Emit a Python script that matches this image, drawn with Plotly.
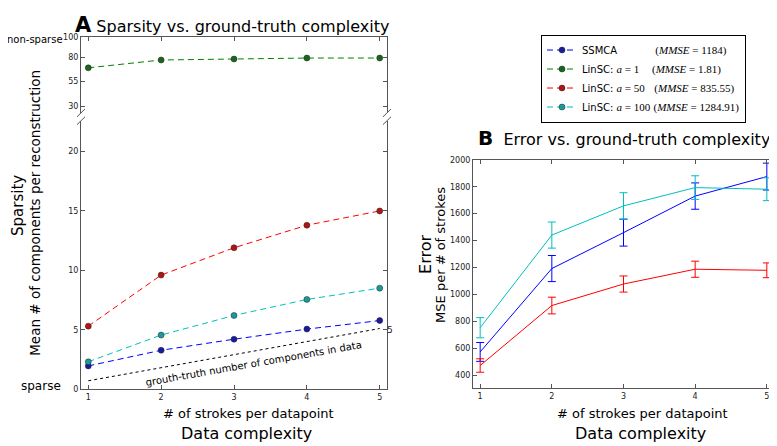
import plotly.graph_objects as go

# ---------------- data ----------------
strokes = [1, 2, 3, 4, 5]

# Panel A: mean number of components per reconstruction
sp_ssmca = [1.95, 3.27, 4.2, 5.05, 5.77]
sp_lin1 = [69, 77, 78, 79, 79]
sp_lin50 = [5.3, 9.6, 11.9, 13.8, 15.0]
sp_lin100 = [2.3, 4.55, 6.2, 7.55, 8.5]
gt_x = [1, 5]
gt_y = [0.7, 5.1]

# Panel B: MSE per # of strokes (mean, error)
err_ssmca = [572, 1192, 1459, 1731, 1876]
err_ssmca_sd = [70, 97, 100, 98, 100]
err_lin50 = [471, 917, 1077, 1187, 1179]
err_lin50_sd = [50, 62, 60, 60, 55]
err_lin100 = [752, 1441, 1658, 1794, 1782]
err_lin100_sd = [75, 97, 98, 88, 85]

sp_ticks_low = [0, 5, 10, 15, 20]
sp_ticks_high = [30, 55, 80, 100]
err_ticks = [400, 600, 800, 1000, 1200, 1400, 1600, 1800, 2000]

BLUE, GREEN, RED, CYAN = "#0000ff", "#008000", "#ff0000", "#00bfbf"
MBLUE, MGREEN, MRED, MCYAN = "#1a1aa0", "#1a661a", "#b01515", "#1a9a9a"
FONT = "DejaVu Sans"
SERIF = "Liberation Serif"

# the page body has an 8px margin: the figure is drawn at (8, 8)
OFF = 8
W, H = 777 - OFF, 446 - OFF


def px(x):
    return (x - OFF) / W


def py(y):
    return 1 - (y - OFF) / H


nb = "\u00a0"


def mm(txt):
    return f"<span style='font-family:{SERIF};font-size:11px'>{txt}</span>"


names = [
    "SSMCA" + nb * 12 + mm("(<i>MMSE</i> = 1184)"),
    "LinSC: " + mm("<i>a</i> = 1") + nb * 4 + mm("(<i>MMSE</i> = 1.81)"),
    "LinSC: " + mm("<i>a</i> = 50") + nb * 3 + mm("(<i>MMSE</i> = 835.55)"),
    "LinSC: " + mm("<i>a</i> = 100") + nb * 1 + mm("(<i>MMSE</i> = 1284.91)"),
]

fig = go.Figure()


def dashed(xv, yv, color, mcolor, name, xa, ya, show):
    fig.add_trace(go.Scatter(
        x=xv, y=yv, mode="lines+markers", name=name, showlegend=show,
        xaxis=xa, yaxis=ya,
        line=dict(color=color, width=1, dash="6px,4px"),
        marker=dict(color=mcolor, size=6, line=dict(color="#222222", width=0.5)),
        hoverinfo="skip",
    ))


# Panel A
dashed(strokes, sp_ssmca, BLUE, MBLUE, names[0], "x", "y", True)
dashed(strokes, sp_lin1, GREEN, MGREEN, names[1], "x2", "y2", True)
dashed(strokes, sp_lin50, RED, MRED, names[2], "x", "y", True)
dashed(strokes, sp_lin100, CYAN, MCYAN, names[3], "x", "y", True)

fig.add_trace(go.Scatter(
    x=gt_x, y=gt_y, mode="lines", showlegend=False, xaxis="x", yaxis="y",
    line=dict(color="black", width=1, dash="dot"), hoverinfo="skip",
))

# Panel B
for yv, sd, color in [(err_ssmca, err_ssmca_sd, BLUE),
                      (err_lin50, err_lin50_sd, RED),
                      (err_lin100, err_lin100_sd, CYAN)]:
    fig.add_trace(go.Scatter(
        x=strokes, y=yv, mode="lines", showlegend=False,
        xaxis="x3", yaxis="y3",
        line=dict(color=color, width=1),
        error_y=dict(type="data", array=sd, visible=True, color=color,
                     thickness=1, width=4),
        hoverinfo="skip",
    ))

AX = "#555555"
tickfont = dict(family=FONT, size=8, color="#222222")
common = dict(showgrid=False, zeroline=False, showline=True, linecolor=AX,
              linewidth=1, ticks="inside", ticklen=4, tickcolor=AX,
              tickfont=tickfont)

# geometry (reference pixels)
A_L, A_R = 81, 387
A_TOP_T, A_TOP_B = 34, 111
A_BOT_T, A_BOT_B = 119, 393
B_L, B_R, B_T, B_B = 473, 774, 159, 392

fig.update_layout(
    width=W, height=H, autosize=False,
    margin=dict(l=0, r=0, t=0, b=0),
    paper_bgcolor="white", plot_bgcolor="white",
    font=dict(family=FONT, color="black"),
    xaxis=dict(domain=[px(A_L), px(A_R)], range=[0.9, 5.1], anchor="y",
               tickvals=strokes, side="bottom", mirror=False, **common),
    xaxis2=dict(domain=[px(A_L), px(A_R)], range=[0.9, 5.1], anchor="y2",
                tickvals=strokes, side="top", showticklabels=False,
                mirror=False, **common),
    yaxis=dict(domain=[py(A_BOT_B), py(A_BOT_T)], range=[0, 22.6],
               anchor="x", tickvals=sp_ticks_low, mirror="ticks", **common),
    yaxis2=dict(domain=[py(A_TOP_B), py(A_TOP_T)], range=[23, 100],
                anchor="x2", tickvals=sp_ticks_high, mirror="ticks", **common),
    xaxis3=dict(domain=[px(B_L), px(B_R)], range=[0.9, 5.1], anchor="y3",
                tickvals=strokes, mirror="ticks", **common),
    yaxis3=dict(domain=[py(B_B), py(B_T)], range=[303, 2000], anchor="x3",
                tickvals=err_ticks, mirror="ticks", **common),
    legend=dict(x=px(541), y=py(31), xanchor="left", yanchor="top",
                bgcolor="white", bordercolor="black", borderwidth=1,
                font=dict(family=FONT, size=10, color="black"),
                traceorder="normal"),
)

# axis break marks
shapes = []
for xc in (A_L, A_R):
    for yc in (A_TOP_B, A_BOT_T):
        shapes.append(dict(type="line", xref="paper", yref="paper",
                           x0=px(xc - 4), y0=py(yc + 4),
                           x1=px(xc + 4), y1=py(yc - 4),
                           line=dict(color=AX, width=1)))
fig.update_layout(shapes=shapes)

ann = []


def text(x, y, t, size, angle=0, xanchor="center", yanchor="middle", color="black"):
    ann.append(dict(x=px(x), y=py(y), xref="paper", yref="paper", text=t,
                    showarrow=False, textangle=angle, xanchor=xanchor,
                    yanchor=yanchor, font=dict(family=FONT, size=size, color=color)))


# panel A title pinned to the top edge so it is not clipped
ann.append(dict(x=px(74), y=1, xref="paper", yref="paper", xanchor="left",
                yanchor="top", borderpad=0, showarrow=False,
                text="<span style='font-size:21px'><b>A</b></span> Sparsity vs. ground-truth complexity",
                font=dict(family=FONT, size=16, color="black")))
text(476, 137, "<span style='font-size:20px'><b>B</b></span>  Error vs. ground-truth complexity",
     16, xanchor="left")
text(65, 36, "non-sparse", 10, xanchor="right")
text(63, 390, "sparse", 12, xanchor="right")
text(18, 206, "Sparsity", 15, angle=-90)
text(35, 213, "Mean # of components per reconstruction", 13.5, angle=-90)
text(426, 256, "Error", 16, angle=-90)
text(441, 256, "MSE per # of strokes", 13, angle=-90)
text(248, 418, "# of strokes per datapoint", 13)
text(246, 438, "Data complexity", 16)
text(642, 418, "# of strokes per datapoint", 13)
text(640, 438, "Data complexity", 16)

ann.append(dict(x=3.27, y=2.43, xref="x", yref="y",
                text="grouth-truth number of components in data",
                showarrow=False, textangle=-10, yshift=-3,
                font=dict(family=FONT, size=10, color="black")))
ann.append(dict(x=gt_x[-1], y=gt_y[-1], xref="x", yref="y", text="5",
                showarrow=False, xshift=10, yshift=-1,
                font=dict(family=FONT, size=9, color="#222222")))
fig.update_layout(annotations=ann)

fig.write_html("out.html")
